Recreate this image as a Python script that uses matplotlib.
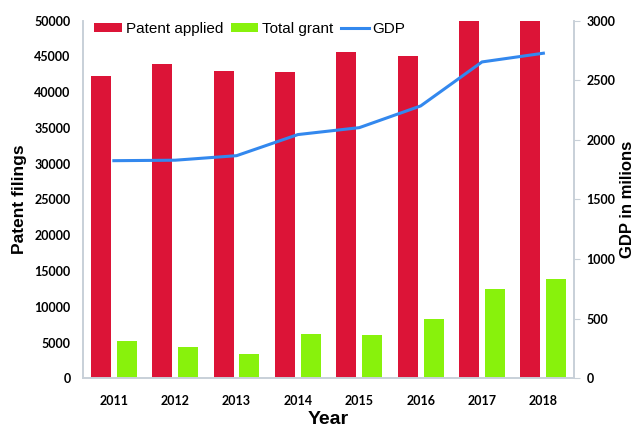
import matplotlib.pyplot as plt
import numpy as np

years = ['2011', '2012', '2013', '2014', '2015', '2016', '2017', '2018']
applied = [42300, 43950, 43000, 42870, 45670, 45070, 50000, 50000]
granted = [5170, 4380, 3350, 6150, 6050, 8290, 12440, 13930]
gdp = [1825, 1829, 1867, 2044, 2102, 2284, 2653, 2726]

x = np.arange(len(years))
spine_col = '#C8D0D8'
plt.rcParams['font.family'] = ['Liberation Sans', 'DejaVu Sans']

fig = plt.figure(figsize=(6.35, 4.28), dpi=100)
ax = fig.add_axes([0.131, 0.116, 0.773, 0.836])
ax2 = ax.twinx()

b1 = ax.bar(x - 0.21, applied, width=0.326, color='#DC1437', label='Patent applied')
b2 = ax.bar(x + 0.21, granted, width=0.326, color='#88F20C', label='Total grant')
l1, = ax2.plot(x, gdp, color='#3388EE', lw=2.2, label='GDP')

ax.set_xlim(-0.5, 7.5)
ax.set_ylim(0, 50000)
ax.set_yticks(np.arange(0, 50001, 5000))
ax2.set_ylim(0, 3000)
ax2.set_yticks(np.arange(0, 3001, 500))
ax.set_xticks(x)
ax.set_xticklabels(years)

for a in (ax, ax2):
    a.spines['top'].set_visible(False)
    for s in ('left', 'bottom', 'right'):
        a.spines[s].set_color(spine_col)
        a.spines[s].set_linewidth(1.2)

ax.tick_params(axis='y', length=0, pad=9)
ax.tick_params(axis='x', length=0, pad=12)
ax2.tick_params(axis='y', length=4, color=spine_col, pad=5)
for lab in ax.get_xticklabels() + ax.get_yticklabels() + ax2.get_yticklabels():
    lab.set_fontfamily('Lato')
    lab.set_fontweight('bold')
    lab.set_fontsize(9)

ax.set_xlabel('Year', fontsize=14, fontweight='bold', labelpad=3)
ax.set_ylabel('Patent filings', fontsize=12.5, fontweight='bold', labelpad=5)
ax2.set_ylabel('GDP in milions', fontsize=12, fontweight='bold', labelpad=3)

ax.legend([b1, b2, l1], ['Patent applied', 'Total grant', 'GDP'], ncol=3,
          loc='upper left', bbox_to_anchor=(-0.005, 1.035), frameon=False,
          fontsize=11, handlelength=1.8, handletextpad=0.25, columnspacing=0.5,
          handleheight=0.6)

fig.savefig('out.png', dpi=100)
